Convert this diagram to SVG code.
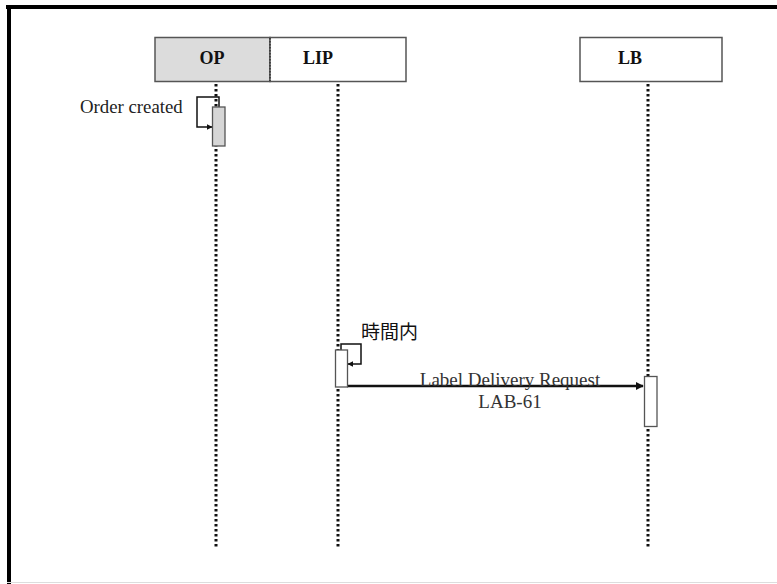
<svg xmlns="http://www.w3.org/2000/svg" width="777" height="584" viewBox="0 0 777 584">
<defs>
<style>
.box{stroke:#555;stroke-width:1.5}
.head{font-family:"Liberation Serif",serif;font-weight:bold;font-size:18px;fill:#111;text-anchor:middle}
.life{stroke:#111;stroke-width:3;stroke-dasharray:2.5 2.5;fill:none}
.act{stroke:#555;stroke-width:1.3}
.msg{stroke:#111;fill:none}
.lbl{font-family:"Liberation Serif",serif;font-size:19px;fill:#333}
</style>
<marker id="ah" viewBox="0 0 10 10" refX="9" refY="5" markerWidth="6" markerHeight="6" markerUnits="userSpaceOnUse" orient="auto">
<path d="M0,0 L10,5 L0,10 z" fill="#111"/>
</marker>
<marker id="ah2" viewBox="0 0 10 10" refX="9" refY="5" markerWidth="8" markerHeight="8" markerUnits="userSpaceOnUse" orient="auto">
<path d="M0,0 L10,5 L0,10 z" fill="#111"/>
</marker>
</defs>
<rect width="777" height="584" fill="#fff"/>
<g id="frame">
<line x1="6" y1="7" x2="777" y2="7" stroke="#000" stroke-width="4"/>
<line x1="9" y1="5" x2="9" y2="584" stroke="#000" stroke-width="4"/>
<line x1="7" y1="582.5" x2="777" y2="582.5" stroke="#ddd" stroke-width="1"/>
</g>
<g id="OP">
<rect x="155" y="37.5" width="115" height="44" fill="#dcdcdc" class="box"/>
<text x="212" y="64" class="head">OP</text>
</g>
<g id="LIP">
<rect x="270" y="37.5" width="136" height="44" fill="#fff" class="box"/>
<line x1="270" y1="38" x2="270" y2="81" stroke="#333" stroke-width="1.5" stroke-dasharray="1.5 1.5"/>
<text x="318" y="64" class="head">LIP</text>
</g>
<g id="LB">
<rect x="580" y="37.5" width="142" height="44" fill="#fff" class="box"/>
<text x="630" y="64" class="head">LB</text>
</g>
<g id="connectors">
<line x1="216" y1="84" x2="216" y2="548" class="life"/>
<line x1="338" y1="84" x2="338" y2="548" class="life"/>
<line x1="648" y1="84" x2="648" y2="548" class="life"/>
<path d="M219,107 V97 H197 V127 H212" class="msg" stroke-width="1.5" marker-end="url(#ah)"/>
<path d="M341,350 V344 H361 V364 H348" class="msg" stroke-width="1.5" marker-end="url(#ah)"/>
<line x1="347" y1="386" x2="643" y2="386" class="msg" stroke-width="2.5" marker-end="url(#ah2)"/>
</g>
<g id="OP-activation">
<rect x="212.5" y="107" width="12.5" height="39" fill="#d6d6d6" class="act"/>
</g>
<g id="LIP-activation">
<rect x="335.5" y="350" width="12" height="37" fill="#fff" class="act"/>
</g>
<g id="LB-activation">
<rect x="644.5" y="376.5" width="12.5" height="50" fill="#fff" class="act"/>
</g>
<g id="labels">
<text x="80" y="113" class="lbl" style="font-size:18.8px;fill:#222">Order created</text>
<text x="361" y="339" style="font-family:'Noto Sans CJK JP','Noto Sans CJK SC',sans-serif;font-size:19px;fill:#111">時間内</text>
<text x="510" y="386" class="lbl" text-anchor="middle">Label Delivery Request</text>
<text x="510" y="408" class="lbl" text-anchor="middle">LAB-61</text>
</g>
</svg>
